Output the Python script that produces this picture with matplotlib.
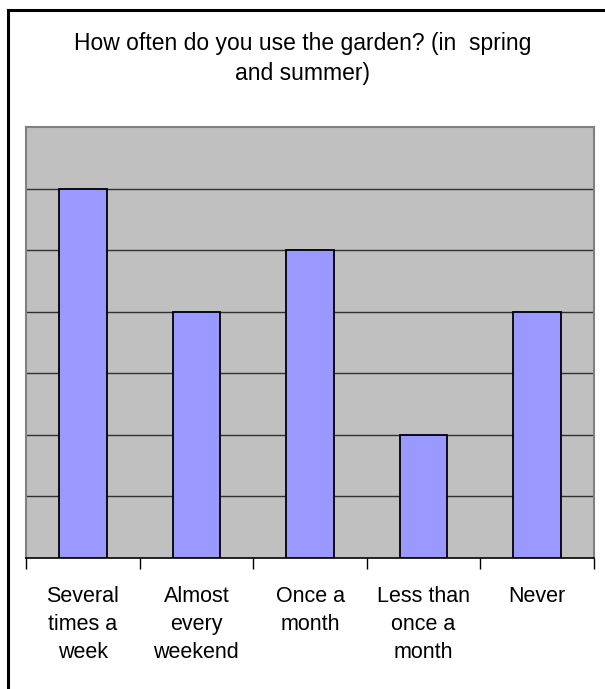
import matplotlib
matplotlib.use("Agg")
import matplotlib.pyplot as plt
from matplotlib.lines import Line2D
import numpy as np

categories = ["Several\ntimes a\nweek", "Almost\nevery\nweekend", "Once a\nmonth",
              "Less than\nonce a\nmonth", "Never"]
values = [6, 4, 5, 2, 4]
title = "How often do you use the garden? (in  spring\nand summer)"
y_max = 7

plt.rcParams['font.family'] = ['Liberation Sans', 'DejaVu Sans']

W, H = 605, 689
fig = plt.figure(figsize=(W / 100, H / 100), dpi=100)
fig.patch.set_facecolor("white")

# figure border (left & top)
fig.add_artist(Line2D([7.5 / W, 7.5 / W], [0, 1 - 10 / H], transform=fig.transFigure,
                      color="black", lw=2.2, solid_capstyle="projecting"))
fig.add_artist(Line2D([7.5 / W, 1], [1 - 10 / H, 1 - 10 / H], transform=fig.transFigure,
                      color="black", lw=2.2, solid_capstyle="projecting"))

left, right, top, bottom = 26, 594, 127, 558
ax = fig.add_axes([left / W, 1 - bottom / H, (right - left) / W, (bottom - top) / H])
ax.set_facecolor("#C0C0C0")

x = np.arange(len(categories))
ax.set_axisbelow(True)
for yv in range(1, y_max):
    ax.axhline(yv, color="#303030", lw=1.0, zorder=1)
ax.bar(x, values, width=0.42, color="#9999FF", edgecolor="black", linewidth=1.3, zorder=3)

ax.set_xlim(-0.5, len(categories) - 0.5)
ax.set_ylim(0, y_max)
ax.set_yticks([])

ax.set_xticks(x)
ax.set_xticklabels(categories, fontsize=15.5, linespacing=1.45)
ax.tick_params(axis="x", which="major", length=0, pad=20)
ax.set_xticks(np.arange(-0.5, len(categories)), minor=True)
ax.tick_params(axis="x", which="minor", length=8, width=1, color="black")

for s in ["top", "right", "left"]:
    ax.spines[s].set_color("#808080")
    ax.spines[s].set_linewidth(1.5)
ax.spines["bottom"].set_color("black")
ax.spines["bottom"].set_linewidth(1.2)

fig.text(0.5, 1 - 32 / H, title, ha="center", va="top", fontsize=16.5, linespacing=1.4)

fig.savefig("out.png", dpi=100)
